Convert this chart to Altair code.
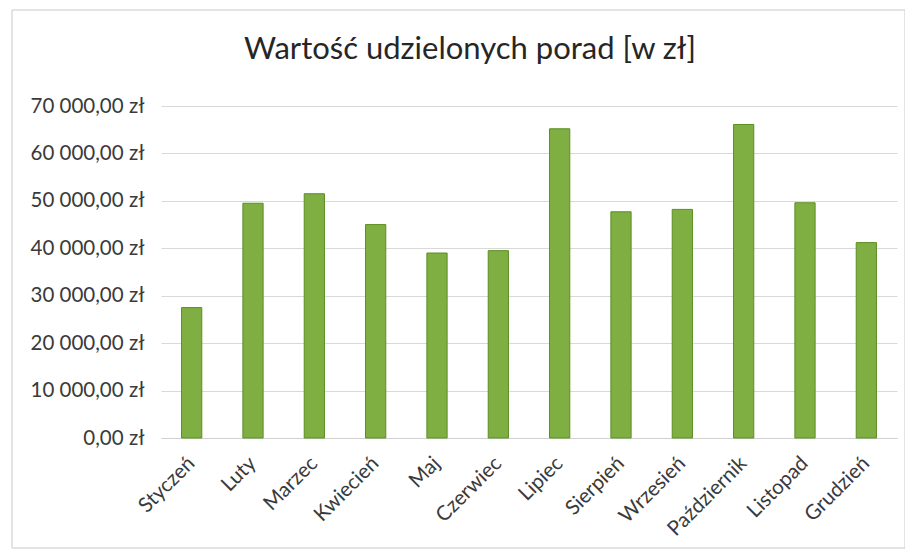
import altair as alt
import pandas as pd

title_text = "Wartość udzielonych porad [w zł]"
months = ["Styczeń", "Luty", "Marzec", "Kwiecień", "Maj", "Czerwiec",
          "Lipiec", "Sierpień", "Wrzesień", "Październik", "Listopad", "Grudzień"]
values = [27500, 49500, 51500, 45000, 39000, 39500,
          65200, 47700, 48200, 66100, 49600, 41200]
y_ticks = [0, 10000, 20000, 30000, 40000, 50000, 60000, 70000]

df = pd.DataFrame({"miesiac": months, "wartosc": values})
tdf = pd.DataFrame({"t": [title_text]})

FONT = "Lato"
TXT = "#3a3a3a"

bars = alt.Chart(df).mark_bar(
    color="#7fae42", stroke="#5b8f22", strokeWidth=1
).encode(
    x=alt.X("miesiac:N", sort=months, title=None,
            scale=alt.Scale(paddingInner=0.67, paddingOuter=0.335),
            axis=alt.Axis(labelAngle=-45, labelAlign="right", labelBaseline="middle",
                          labelPadding=22, ticks=False, domainColor="#d0d0d0",
                          labelFont=FONT, labelFontSize=20.5, labelColor=TXT,
                          grid=False)),
    y=alt.Y("wartosc:Q", title=None,
            scale=alt.Scale(domain=[0, 70000], nice=False),
            axis=alt.Axis(values=y_ticks, ticks=False, domain=False,
                          labelExpr="datum.value == 0 ? '0,00 zł' : format(datum.value/1000, 'd') + ' 000,00 zł'",
                          labelFont=FONT, labelFontSize=20.5, labelColor=TXT,
                          labelPadding=17, gridColor="#d9d9d9", gridWidth=1))
)

border = alt.Chart(tdf).mark_rect(fill=None, stroke="#c8c8c8", strokeWidth=1).encode(
    x=alt.value(-149), x2=alt.value(744), y=alt.value(-96), y2=alt.value(442)
)

title = alt.Chart(tdf).mark_text(
    font=FONT, fontSize=31, color="#262626", align="center", baseline="alphabetic"
).encode(x=alt.value(309), y=alt.value(-47), text="t:N")

chart = alt.layer(border, bars, title).properties(
    width=736, height=332,
    autosize=alt.AutoSizeParams(type="none"),
    padding={"left": 153, "top": 98, "right": 8, "bottom": 114},
).configure_view(stroke=None)

chart.save("out.html", embed_options={"renderer": "svg", "actions": False})
